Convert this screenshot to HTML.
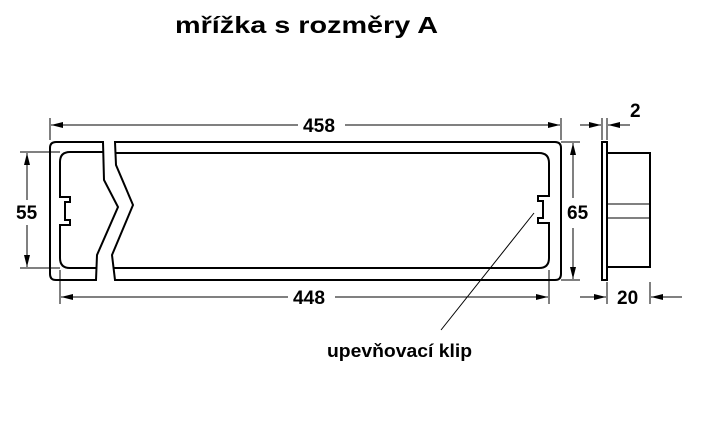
<!DOCTYPE html>
<html><head><meta charset="utf-8"><style>
html,body{margin:0;padding:0;background:#fff;width:713px;height:442px;overflow:hidden}
svg{display:block}
text{font-family:"Liberation Sans",Arial,sans-serif;font-weight:bold;fill:#000}
</style></head><body>
<svg width="713" height="442" viewBox="0 0 713 442" xmlns="http://www.w3.org/2000/svg">
<defs>
<marker id="a" viewBox="0 0 12 6" refX="12" refY="3" markerWidth="12" markerHeight="6" orient="auto" markerUnits="userSpaceOnUse"><path d="M0,0 L12,3 L0,6 z" fill="#000"/></marker>
</defs>
<text x="175" y="33" font-size="23" textLength="263" lengthAdjust="spacingAndGlyphs">mřížka s rozměry A</text>
<g fill="none" stroke="#000" stroke-width="2">
<path d="M103,142 L56,142 Q50,142 50,148 L50,274 Q50,280 56,280 L96,280 L97,255 L118,207 L104,180 Z"/>
<path d="M103,152 L70,152 Q60,152 60,162 L60,197 L70,197 L70,202 L65,202 L65,220 L70,220 L70,225 L60,225 L60,258 Q60,268 70,268 L97,268"/>
<path d="M115,142 L555,142 Q561,142 561,148 L561,274 Q561,280 555,280 L115,280 L112,255 L133,205 L116,165 Z"/>
<path d="M116,153 L539,153 Q549,153 549,163 L549,196 L538,196 L538,201 L543,201 L543,218 L538,218 L538,223 L549,223 L549,258 Q549,268 539,268 L113,268"/>
<rect x="602" y="142" width="5" height="138" stroke-width="2"/>
<path d="M607,153 L650,153 L650,267 L607,267"/>
<path d="M607,204 L650,204 M607,218 L650,218" stroke-width="1"/>
</g>
<g stroke="#000" stroke-width="1" fill="none">
<path d="M50,118 V140 M561,118 V140 M60,270 V304 M549,270 V304 M20,152 H60 M20,268 H60 M561,142 H580 M561,280 H580 M602,118 V140 M607,118 V140 M607,282 V304 M650,282 V304"/>
<path d="M298,125 H51" marker-end="url(#a)"/>
<path d="M345,125 H560" marker-end="url(#a)"/>
<path d="M288,297 H61" marker-end="url(#a)"/>
<path d="M335,297 H548" marker-end="url(#a)"/>
<path d="M27,200 V153" marker-end="url(#a)"/>
<path d="M27,225 V267" marker-end="url(#a)"/>
<path d="M573,198 V143" marker-end="url(#a)"/>
<path d="M573,228 V279" marker-end="url(#a)"/>
<path d="M580,125 H601" marker-end="url(#a)"/>
<path d="M630,125 H608" marker-end="url(#a)"/>
<path d="M580,297 H606" marker-end="url(#a)"/>
<path d="M682,297 H651" marker-end="url(#a)"/>
<path d="M534,213 L441,330"/>
</g>
<g font-size="19">
<text x="303" y="132" textLength="32" lengthAdjust="spacingAndGlyphs">458</text>
<text x="293" y="304" textLength="32" lengthAdjust="spacingAndGlyphs">448</text>
<text x="16" y="219">55</text>
<text x="567" y="219">65</text>
<text x="630" y="117">2</text>
<text x="617" y="304">20</text>
<text x="327" y="357" font-size="18" textLength="145" lengthAdjust="spacingAndGlyphs">upevňovací klip</text>
</g>
</svg>
</body></html>
